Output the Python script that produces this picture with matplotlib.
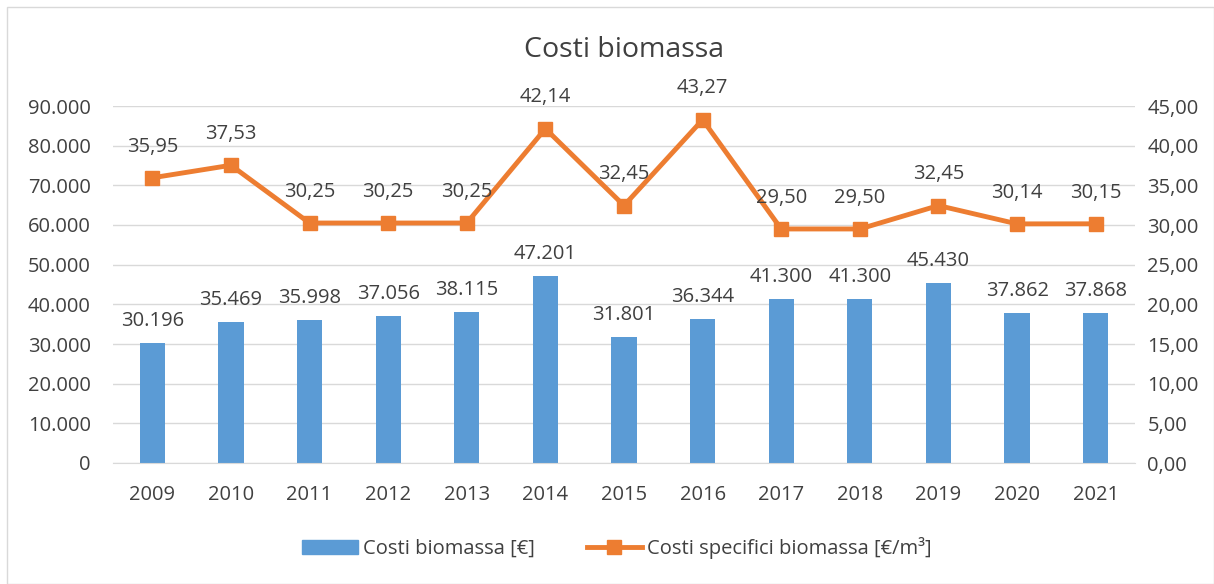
import matplotlib.pyplot as plt
import numpy as np
from matplotlib.patches import Rectangle

plt.rcParams['font.family'] = ['Open Sans', 'DejaVu Sans']

anni = ["2009", "2010", "2011", "2012", "2013", "2014", "2015",
        "2016", "2017", "2018", "2019", "2020", "2021"]
costi = [30196, 35469, 35998, 37056, 38115, 47201, 31801,
         36344, 41300, 41300, 45430, 37862, 37868]
costi_spec = [35.95, 37.53, 30.25, 30.25, 30.25, 42.14, 32.45,
              43.27, 29.50, 29.50, 32.45, 30.14, 30.15]

blu = "#5B9BD5"
arancio = "#ED7D31"
testo = "#404040"
fs = 14.5

def fmt_int(v):
    return f"{v:,.0f}".replace(",", ".")

def fmt_dec(v):
    return f"{v:.2f}".replace(".", ",")

fig = plt.figure(figsize=(12.14, 5.84), dpi=100)
ax1 = fig.add_axes([113 / 1214, 1 - 463 / 584, (1135 - 113) / 1214, (463 - 106) / 584])
ax2 = ax1.twinx()

x = np.arange(len(anni))
ax1.bar(x, costi, width=0.32, color=blu, zorder=2)
for xi, v in zip(x, costi):
    ax1.annotate(fmt_int(v), (xi, v), xytext=(0, 16), textcoords="offset points",
                 ha="center", va="center", fontsize=fs, color=testo)

ax2.plot(x, costi_spec, color=arancio, lw=3.5, marker="s", ms=10, zorder=3)
for xi, v in zip(x, costi_spec):
    ax2.annotate(fmt_dec(v), (xi, v), xytext=(0, 22.5), textcoords="offset points",
                 ha="center", va="center", fontsize=fs, color=testo)

ax1.set_xlim(-0.5, len(anni) - 0.5)
ax1.set_ylim(0, 90000)
ax2.set_ylim(0, 45)
ax1.set_yticks(np.arange(0, 90001, 10000))
ax2.set_yticks(np.arange(0, 45.01, 5))
ax1.set_yticklabels([fmt_int(v) for v in np.arange(0, 90001, 10000)])
ax2.set_yticklabels([fmt_dec(v) for v in np.arange(0, 45.01, 5)])
ax1.set_xticks(x)
ax1.set_xticklabels(anni)

ax1.grid(axis="y", color="#D9D9D9", lw=1, zorder=0)
ax1.set_axisbelow(True)
for ax in (ax1, ax2):
    for s in ax.spines.values():
        s.set_visible(False)
    ax.tick_params(length=0, labelsize=fs, labelcolor=testo)
ax1.spines["bottom"].set_visible(True)
ax1.spines["bottom"].set_color("#D9D9D9")
ax1.tick_params(axis="x", pad=16)
ax1.tick_params(axis="y", pad=16)
ax2.tick_params(axis="y", pad=9)

fig.text(624 / 1214, 1 - 50 / 584, "Costi biomassa", ha="center", va="center",
         fontsize=20.5, color=testo)

h1 = Rectangle((0, 0), 1, 1, color=blu)
h2, = ax2.plot([], [], color=arancio, lw=3.5, marker="s", ms=10)
fig.legend([h1, h2], ["Costi biomassa [€]", "Costi specifici biomassa [€/m³]"],
           loc="center", bbox_to_anchor=(617 / 1214, 1 - 548 / 584), ncol=2,
           frameon=False, fontsize=fs, labelcolor=testo, handlelength=2.75,
           handleheight=0.75, handletextpad=0.25, columnspacing=2.6)

fig.patches.append(Rectangle((7 / 1214, 0), 1 - 7 / 1214, 1 - 7 / 584,
                             transform=fig.transFigure, fill=False,
                             edgecolor="#D9D9D9", lw=1))

fig.savefig("out.png", dpi=100)
